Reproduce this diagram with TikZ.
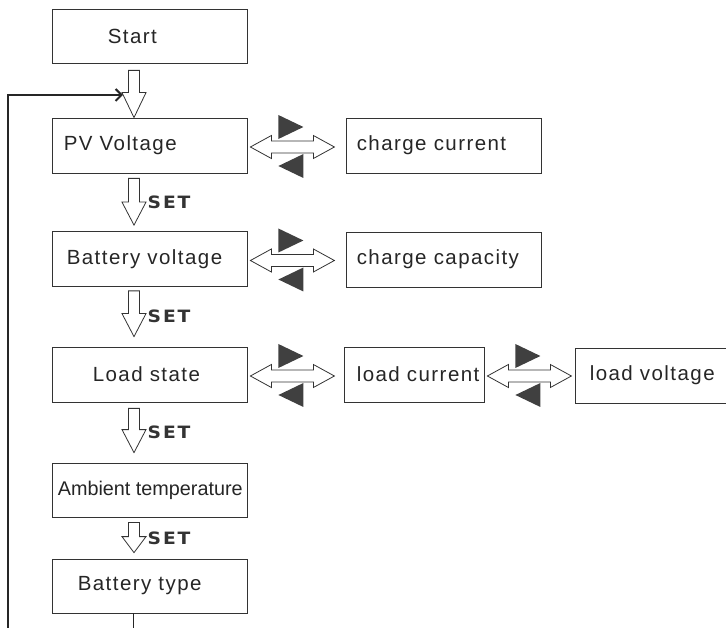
\documentclass[tikz,border=0pt]{standalone}
\usepackage{fontspec}
\setmainfont{Liberation Sans}
\newfontfamily\lblfont[LetterSpace=7]{Liberation Sans}
\newfontfamily\plainlbl{Liberation Sans}
\newfontfamily\setfont[LetterSpace=10]{DejaVu Sans}
\usetikzlibrary{calc,arrows.meta}

\tikzset{
  box/.style={draw=black!80, line width=0.8pt, minimum width=195pt, minimum height=55pt, inner sep=0pt, fill=white},
  lbl/.style={font=\lblfont\fontsize{20.5}{23}\selectfont, text=black!85, inner sep=0pt, anchor=west},
  plbl/.style={font=\plainlbl\fontsize{19.8}{22}\selectfont, text=black!85, inner sep=0pt, anchor=west},
  blk/.style={draw=black!80, line width=0.8pt, fill=white, line join=miter},
  tri/.style={fill=black!75, draw=none},
  setlbl/.style={font=\setfont\bfseries\fontsize{17}{19}\selectfont, text=black!80, inner sep=0pt, anchor=west, xscale=1.1},
  loopline/.style={line width=1.3pt, draw=black!85}
}

% hollow block arrow pointing down: from, to, gap top, gap bottom, head length
\newcommand{\blockdown}[5]{%
  \draw[blk] let \p1=($(#1.south)+(-15.5,#3)$), \p2=($(#2.north)+(-15.5,-#4)$) in
    (\x1-5.5pt,\y1) -- (\x1+5.5pt,\y1) -- (\x1+5.5pt,\y2+#5pt) -- (\x1+12pt,\y2+#5pt)
    -- (\x2,\y2) -- (\x1-12pt,\y2+#5pt) -- (\x1-5.5pt,\y2+#5pt) -- cycle;
}
% hollow double arrow with two dark triangles
\newcommand{\dblarrow}[2]{%
  \draw[blk] let \p1=($(#1.east)+(3,1.5)$) in
    (\x1,\y1) -- (\x1+21pt,\y1+11.5pt) -- (\x1+21pt,\y1+6pt) -- (\x1+63pt,\y1+6pt)
    -- (\x1+63pt,\y1+11.5pt) -- (\x1+84pt,\y1) -- (\x1+63pt,\y1-11.5pt) -- (\x1+63pt,\y1-6pt)
    -- (\x1+21pt,\y1-6pt) -- (\x1+21pt,\y1-11.5pt) -- cycle;
  \fill[tri] let \p1=($(#1.east)+(3,1.5)$) in
    (\x1+28pt,\y1+8pt) -- (\x1+53pt,\y1+20pt) -- (\x1+28pt,\y1+32pt) -- cycle
    (\x1+53pt,\y1-7pt) -- (\x1+28pt,\y1-19pt) -- (\x1+53pt,\y1-31pt) -- cycle;
}

\begin{document}
\begin{tikzpicture}[x=1pt,y=-1pt]
  \useasboundingbox (0,0) rectangle (726,628);
  \clip (0,0) rectangle (726,628);

  % left column boxes
  \node[box, minimum height=54pt] (start) at (149.5,36) {};
  \node[box] (pv) at (149.5,145.5) {};
  \node[box] (bv) at (149.5,259) {};
  \node[box] (ls) at (149.5,374.5) {};
  \node[box, minimum height=54pt] (amb) at (149.5,490) {};
  \node[box, minimum height=54pt] (bt) at (149.5,586) {};

  % right boxes
  \node[box] (cc) at (443.5,145.5) {};
  \node[box] (cap) at (443.5,259.5) {};
  \node[box, minimum width=140pt] (lc) at (414,374.5) {};
  \node[box, minimum width=165pt] (lv) at (657.5,375.5) {};

  % texts
  \node[lbl] (startt) at ($(start.west)+(56,0)$) {Start};
  \node[lbl] (pvt) at ($(pv.west)+(12,0)$) {PV Voltage};
  \node[lbl] (bvt) at ($(bv.west)+(15,0)$) {Battery voltage};
  \node[lbl] (lst) at ($(ls.west)+(41,0)$) {Load state};
  \node[plbl] (ambt) at ($(amb.west)+(6,0)$) {Ambient temperature};
  \node[lbl] (btt) at ($(bt.west)+(26,0)$) {Battery type};
  \node[lbl] (cct) at ($(cc.west)+(11,0)$) {charge current};
  \node[lbl] (capt) at ($(cap.west)+(11,0)$) {charge capacity};
  \node[lbl] (lct) at ($(lc.west)+(13,0)$) {load current};
  \node[lbl] (lvt) at ($(lv.west)+(15,0)$) {load voltage};

  % vertical block arrows
  \blockdown{start}{pv}{7}{0}{25}
  \blockdown{pv}{bv}{5}{6}{23}
  \blockdown{bv}{ls}{4}{10}{23}
  \blockdown{ls}{amb}{6}{10}{23}
  \blockdown{amb}{bt}{5}{6}{16}

  % SET labels
  \node[setlbl] (set1) at ($(pv.south)!0.5!(bv.north)+(-2,0)$) {SET};
  \node[setlbl] (set2) at ($(bv.south)!0.5!(ls.north)+(-2,0)$) {SET};
  \node[setlbl] (set3) at ($(ls.south)!0.5!(amb.north)+(-2,0)$) {SET};
  \node[setlbl] (set4) at ($(amb.south)!0.5!(bt.north)+(-2,0)$) {SET};

  % horizontal double arrows
  \dblarrow{pv}{cc}
  \dblarrow{bv}{cap}
  \dblarrow{ls}{lc}
  \dblarrow{lc}{lv}

  % loop back line
  \coordinate (loopbot) at (8,628);
  \coordinate (loopcorner) at (8,95);
  \coordinate (entry) at (123,95);
  \draw[line width=1pt, draw=black!85] ($(bt.south)+(-16,0)$) -- ++(0,20);
  \draw[loopline, -{Straight Barb[length=6pt,width=12pt,line width=2pt]}] (loopbot) -- (loopcorner) -- (entry);
\end{tikzpicture}
\end{document}
